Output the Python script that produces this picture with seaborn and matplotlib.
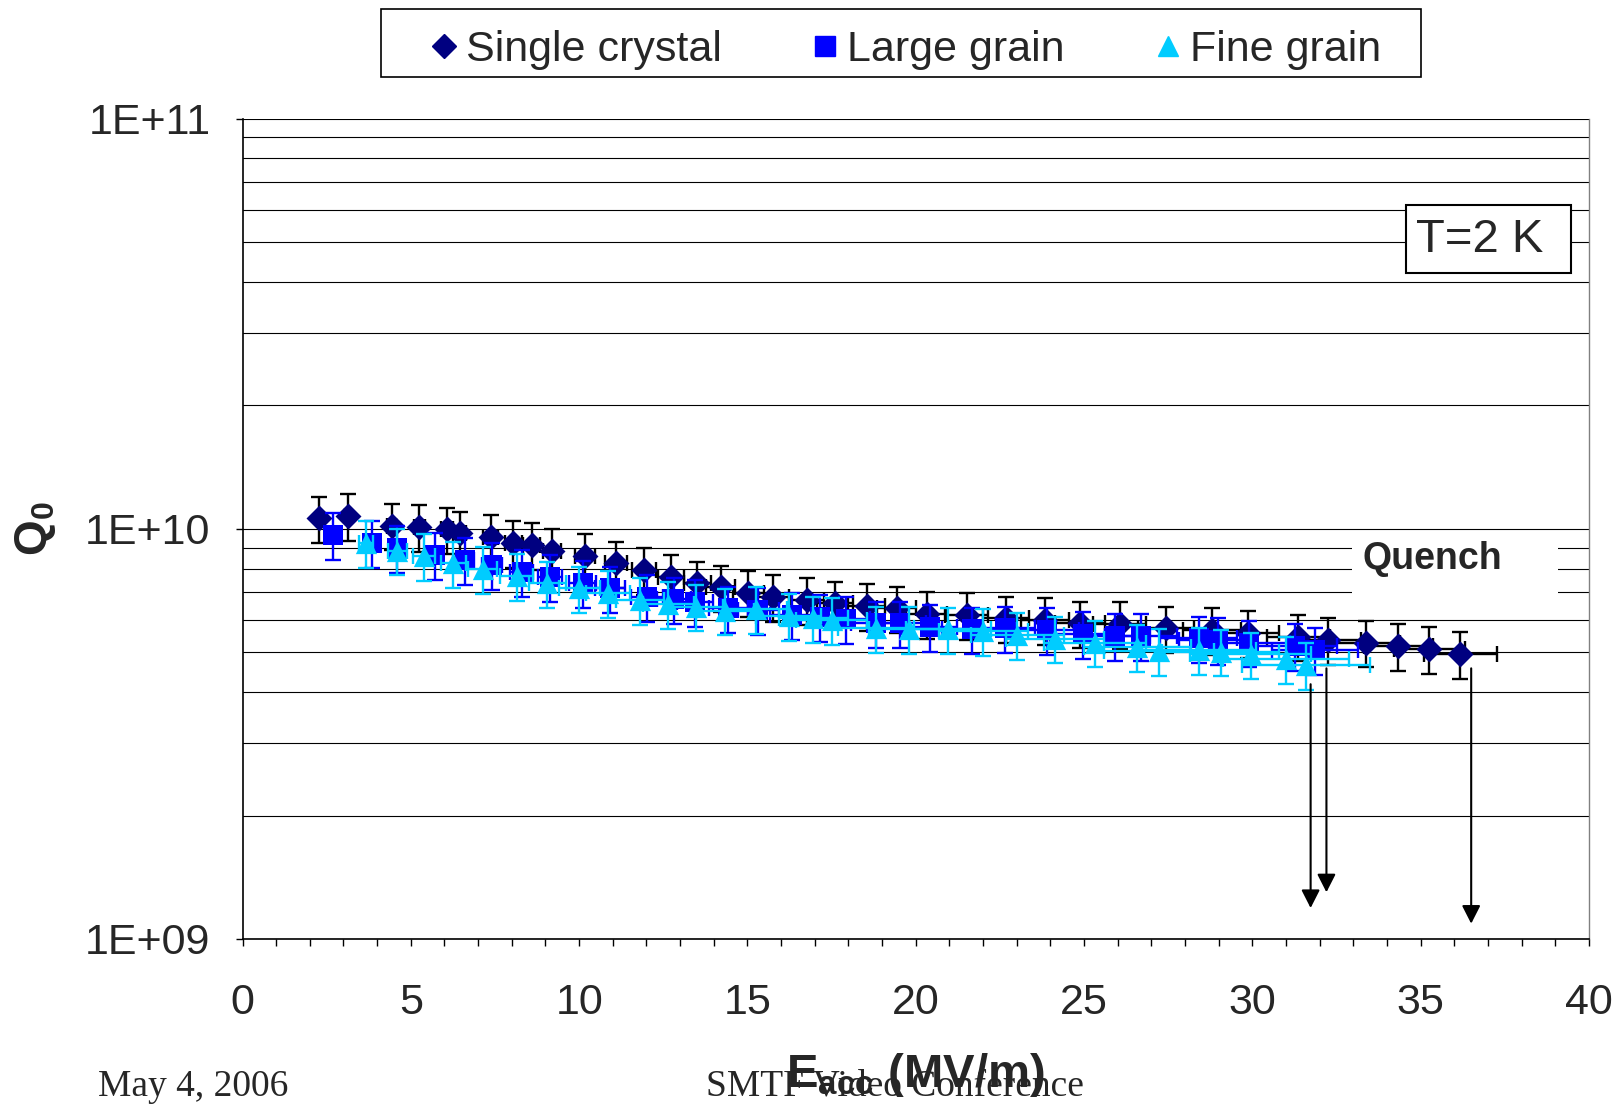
import seaborn as sns
import matplotlib.pyplot as plt
from matplotlib.patches import Rectangle
from matplotlib.lines import Line2D
from matplotlib.ticker import LogLocator, NullFormatter, MultipleLocator, FixedLocator

# ---- data ----
# Single crystal: Eacc (MV/m), Q0
sc_e = [2.27, 3.13, 4.44, 5.25, 6.07, 6.46, 7.37, 8.05, 8.59, 9.19, 10.18,
        11.09, 11.94, 12.73, 13.51, 14.21, 15.03, 15.77, 16.76, 17.60, 18.54,
        19.43, 20.33, 21.51, 22.68, 23.84, 24.88, 26.06, 27.43, 28.79, 29.88,
        31.37, 32.26, 33.37, 34.34, 35.26, 36.17]
sc_q = [10.6e9, 10.75e9, 10.18e9, 10.1e9, 9.97e9, 9.75e9, 9.57e9, 9.25e9, 9.13e9,
        8.83e9, 8.59e9, 8.24e9, 7.94e9, 7.62e9, 7.36e9, 7.20e9, 6.99e9, 6.83e9,
        6.71e9, 6.58e9, 6.48e9, 6.40e9, 6.20e9, 6.17e9, 6.05e9, 5.99e9, 5.88e9,
        5.86e9, 5.72e9, 5.67e9, 5.58e9, 5.46e9, 5.36e9, 5.28e9, 5.18e9, 5.09e9,
        4.95e9]

# Large grain
lg_e = [2.70, 3.84, 4.58, 5.72, 6.61, 7.40, 8.29, 9.14, 10.11, 10.92, 12.01,
        12.82, 13.44, 14.43, 15.32, 16.32, 17.16, 17.93, 18.82, 19.53, 20.42,
        21.66, 22.65, 23.89, 24.98, 25.92, 26.68, 28.40, 28.99, 29.91, 31.27,
        31.86]
lg_q = [9.66e9, 9.25e9, 8.97e9, 8.63e9, 8.40e9, 8.16e9, 7.86e9, 7.64e9, 7.37e9,
        7.16e9, 6.83e9, 6.73e9, 6.64e9, 6.40e9, 6.34e9, 6.17e9, 6.09e9, 6.02e9,
        5.88e9, 5.88e9, 5.77e9, 5.69e9, 5.72e9, 5.67e9, 5.54e9, 5.48e9, 5.48e9,
        5.41e9, 5.36e9, 5.28e9, 5.18e9, 5.07e9]

# Fine grain
fg_e = [3.67, 4.60, 5.39, 6.26, 7.14, 8.15, 9.06, 10.01, 10.85, 11.81, 12.65,
        13.47, 14.33, 15.26, 16.22, 16.96, 17.50, 18.82, 19.80, 20.97, 22.01,
        23.02, 24.14, 25.33, 26.58, 27.24, 28.40, 29.06, 29.95, 31.00, 31.60]
fg_q = [9.25e9, 8.85e9, 8.59e9, 8.24e9, 7.97e9, 7.67e9, 7.36e9, 7.16e9, 6.98e9,
        6.71e9, 6.56e9, 6.46e9, 6.32e9, 6.37e9, 6.13e9, 6.05e9, 5.99e9, 5.72e9,
        5.70e9, 5.69e9, 5.64e9, 5.51e9, 5.40e9, 5.28e9, 5.16e9, 5.04e9, 5.07e9,
        5.02e9, 4.94e9, 4.81e9, 4.66e9]

# relative uncertainties (Q0 and Eacc)
q_rel = 0.13
sc_e_rel = 0.03
lg_e_rel = 0.04
fg_e_rel = 0.06

# quench arrows: Eacc, start Q0, end Q0
quench_e = [31.73, 32.20, 36.50]
quench_from = [4.18e9, 4.57e9, 4.57e9]
quench_to = [1.19e9, 1.30e9, 1.09e9]

series_names = ['Single crystal', 'Large grain', 'Fine grain']
ytick_vals = [1e9, 1e10, 1e11]
ytick_labels = ['1E+09', '1E+10', '1E+11']
xtick_vals = [0, 5, 10, 15, 20, 25, 30, 35, 40]

sns.set_style('white')
plt.rcParams['font.family'] = ['Liberation Sans', 'DejaVu Sans']
plt.rcParams['mathtext.fontset'] = 'custom'
plt.rcParams['mathtext.rm'] = 'Liberation Sans'
plt.rcParams['mathtext.bf'] = 'Liberation Sans:bold'

fig = plt.figure(figsize=(16.18, 11.04), dpi=100)
ax = fig.add_axes([0.14988, 0.14946, 0.83220, 0.74302])

styles = [
    (sc_e, sc_q, sc_e_rel, 'D', 175, '#000080', 'black'),
    (lg_e, lg_q, lg_e_rel, 's', 225, '#0000FF', '#0000FF'),
    (fg_e, fg_q, fg_e_rel, '^', 235, '#00CCFF', '#00CCFF'),
]
for i, (e, q, erel, mk, size, col, ecol) in enumerate(styles):
    ax.errorbar(e, q, xerr=[v * erel for v in e], yerr=[v * q_rel for v in q],
                fmt='none', ecolor=ecol, elinewidth=1.7, capsize=5.5,
                capthick=1.7, zorder=3 + 2 * i)
    sns.scatterplot(x=e, y=q, marker=mk, s=size, color=col, linewidth=0,
                    ax=ax, zorder=4 + 2 * i, legend=False)

ax.set_yscale('log')
ax.set_ylim(1e9, 1e11)
ax.set_xlim(0, 40)

ax.xaxis.set_major_locator(FixedLocator(xtick_vals))
ax.xaxis.set_minor_locator(MultipleLocator(1))
ax.set_yticks(ytick_vals)
ax.set_yticklabels(ytick_labels)
ax.yaxis.set_minor_locator(LogLocator(base=10, subs=range(2, 10)))
ax.yaxis.set_minor_formatter(NullFormatter())

ax.tick_params(axis='x', which='both', direction='out', length=5, width=1,
               color='black', bottom=True)
ax.tick_params(axis='x', which='major', labelsize=31, pad=27)
ax.tick_params(axis='y', which='major', direction='out', length=5, width=1,
               color='black', left=True, labelsize=31, pad=18)
ax.tick_params(axis='y', which='minor', length=0)

ax.grid(True, axis='y', which='both', color='black', linewidth=0.8, zorder=0)
ax.grid(False, axis='x')
ax.set_axisbelow(True)

for side in ['left', 'bottom']:
    ax.spines[side].set_color('black')
    ax.spines[side].set_linewidth(1.2)
ax.spines['top'].set_visible(False)
ax.spines['right'].set_color('#808080')
ax.spines['right'].set_linewidth(1)

ax.set_xlabel('$\\mathbf{E_{acc}}$ (MV/m)', fontsize=34, fontweight='bold')
ax.xaxis.set_label_coords(0.5, -0.166)
ax.xaxis.label.set_va('center')
ax.set_ylabel('$\\mathbf{Q_0}$', fontsize=33, fontweight='bold')
ax.yaxis.set_label_coords(-0.1534, 0.5)
ax.yaxis.label.set_va('center')

# quench arrows
for e, y0, y1 in zip(quench_e, quench_from, quench_to):
    ax.annotate('', xy=(e, y1), xytext=(e, y0),
                arrowprops=dict(arrowstyle='-|>,head_length=0.55,head_width=0.28',
                                mutation_scale=20, color='black', lw=1.5,
                                shrinkA=0, shrinkB=0),
                zorder=10)

# Quench label with white patch over gridlines
ax.add_patch(Rectangle((32.96, 6.34e9), 6.12, 9.77e9 - 6.34e9, facecolor='white',
                       edgecolor='none', zorder=1))
ax.text(33.28, 7.97e9, 'Quench', fontsize=27, fontweight='bold', ha='left',
        va='baseline', zorder=11)

# T=2 K box
ax.add_patch(Rectangle((0.8641, 0.8115), 0.1223, 0.0833, transform=ax.transAxes,
                       facecolor='white', edgecolor='black', linewidth=1.5, zorder=12))
ax.text(0.8715, 0.8379, 'T=2 K', transform=ax.transAxes, fontsize=34,
        ha='left', va='baseline', zorder=13)

# legend with rectangular frame
fig.patches.append(Rectangle((381 / 1618, 1 - 77 / 1104), 1040 / 1618, 68 / 1104,
                             transform=fig.transFigure, facecolor='white',
                             edgecolor='black', linewidth=1.2))
leg_sizes = {'D': 12, 's': 14.5, '^': 15}
handles = [Line2D([], [], marker=mk, color=col, linestyle='none',
                  markersize=leg_sizes[mk])
           for (_, _, _, mk, _, col, _) in styles]
fig.legend(handles, series_names, loc='center', bbox_to_anchor=(0.5586, 0.955),
           ncol=3, frameon=False, fontsize=31, handlelength=0.8,
           handletextpad=0.12, columnspacing=1.99, borderpad=0)

# footer of the slide
fig.text(98 / 1618, 8 / 1104, 'May 4, 2006', family='Liberation Serif',
         fontsize=27, ha='left', va='baseline')
fig.text(895 / 1618, 8 / 1104, 'SMTF Video Conference', family='Liberation Serif',
         fontsize=27, ha='center', va='baseline')

fig.savefig('out.png', dpi=100)
